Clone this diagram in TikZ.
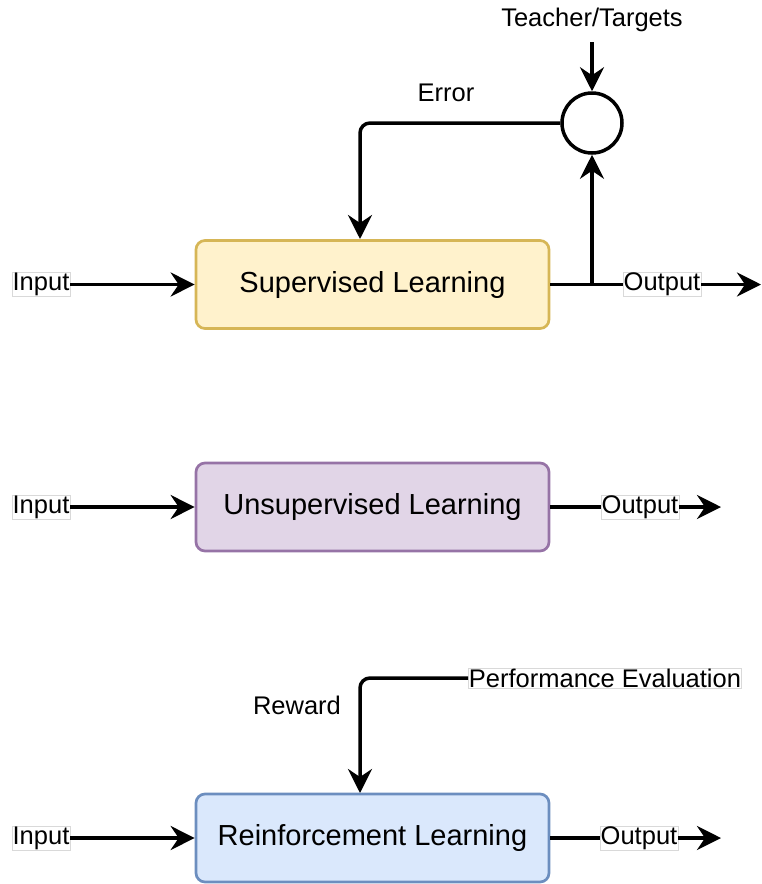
\documentclass[tikz,border=0pt]{standalone}
\usepackage{fontspec}
\setmainfont{Liberation Sans}
\usetikzlibrary{arrows.meta}
\definecolor{supf}{HTML}{FFF2CC}
\definecolor{supd}{HTML}{D6B656}
\definecolor{unsf}{HTML}{E1D5E7}
\definecolor{unsd}{HTML}{9673A6}
\definecolor{reif}{HTML}{DAE8FC}
\definecolor{reid}{HTML}{6C8EBF}
\begin{document}
\begin{tikzpicture}[x=1pt,y=-1pt,
  box/.style={rounded corners=9pt, line width=2.7pt, minimum width=353pt, minimum height=88pt, font=\fontsize{29}{32}\selectfont, inner sep=0pt},
  lbl/.style={fill=white, draw=black!15, line width=0.6pt, inner sep=0.6pt, font=\fontsize{25.5}{28}\selectfont},
  txt/.style={inner sep=0pt, font=\fontsize{25.5}{28}\selectfont},
  conn/.style={line width=3.5pt, -{Stealth[length=24pt,width=24pt,inset=8pt]}},
  plain/.style={line width=3.5pt}]
\useasboundingbox (0,0) rectangle (761,884);

% Supervised
\node[box, fill=supf, draw=supd] (sup) at (372.5,284.5) {Supervised Learning};
\node[lbl] (in1) at (41,284.5) {Input};
\node[lbl] (out1) at (662,284.5) {Output};
\coordinate (br) at (592,284.5);
\coordinate (end1) at (761,284.5);
\node[circle, draw, line width=3.5pt, minimum size=60pt, inner sep=0pt] (circ) at (592,123) {};
\node[txt] (teach) at (592,20) {Teacher/Targets};
\node[txt] (err) at (446,93) {Error};
\coordinate (errin) at (360,239);
\draw[conn] (in1.east) -- (sup.west);
\draw[plain] (sup.east) -- (out1.west);
\draw[conn] (out1.east) -- (end1);
\draw[conn] (br) -- (circ.south);
\draw[conn, shorten <=10pt] (teach.south) -- (circ.north);
\draw[conn, rounded corners=10pt] (circ.west) -| (errin);

% Unsupervised
\node[box, fill=unsf, draw=unsd] (uns) at (372.5,507) {Unsupervised Learning};
\node[lbl] (in2) at (41,507) {Input};
\node[lbl] (out2) at (640,507) {Output};
\coordinate (end2) at (721,507);
\draw[conn] (in2.east) -- (uns.west);
\draw[plain] (uns.east) -- (out2.west);
\draw[conn] (out2.east) -- (end2);

% Reinforcement
\node[box, fill=reif, draw=reid] (rei) at (372.5,838) {Reinforcement Learning};
\node[lbl] (in3) at (41,838) {Input};
\node[lbl] (out3) at (639,838) {Output};
\coordinate (end3) at (721,838);
\node[lbl] (perf) at (605,678) {Performance Evaluation};
\node[txt] (rew) at (297,705) {Reward};
\coordinate (rin) at (360,793);
\draw[conn] (in3.east) -- (rei.west);
\draw[plain] (rei.east) -- (out3.west);
\draw[conn] (out3.east) -- (end3);
\draw[conn, rounded corners=10pt] (perf.west) -| (rin);
\end{tikzpicture}
\end{document}
